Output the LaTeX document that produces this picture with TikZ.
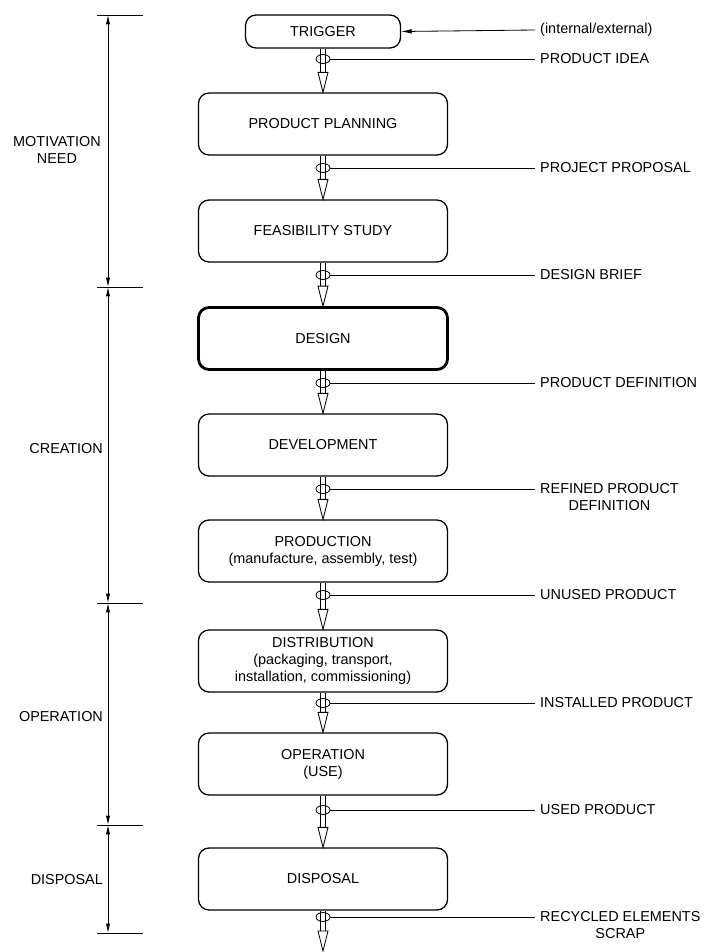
\documentclass[tikz,border=0pt]{standalone}
\usepackage{fontspec}
\setmainfont{Liberation Sans}
\usetikzlibrary{positioning,arrows.meta,shapes.geometric,calc}

\tikzset{
  stage/.style={draw, line width=1.1pt, rounded corners=9pt, align=center,
    minimum width=7.47cm, minimum height=1.86cm, inner sep=2pt},
  output/.style={anchor=west, align=center, inner xsep=0.15cm, inner ysep=0pt},
  phase/.style={anchor=east, align=center},
  ring/.style={draw, ellipse, line width=0.7pt, minimum width=0.42cm,
    minimum height=0.27cm, inner sep=0pt},
  head/.style={line width=0.7pt, fill=white, line join=miter},
  tap/.style={line width=0.7pt},
  span/.style={line width=0.7pt, {Latex[length=8pt,width=3.6pt]}-{Latex[length=8pt,width=3.6pt]}}
}

\begin{document}
\begin{tikzpicture}[x=0.03cm, y=-0.03cm, font=\fontsize{12.3}{14.5}\selectfont]
\useasboundingbox (0,0) rectangle (707,952);

% stages of the product life
\node[stage, minimum width=4.65cm, minimum height=0.99cm] (p_1) at (323,31.5) {TRIGGER};
\node[stage] (p_2) at (323,124) {PRODUCT PLANNING};
\node[stage] (p_3) at (323,231) {FEASIBILITY STUDY};
\node[stage, line width=2.4pt] (p_4) at (323,338.5) {DESIGN};
\node[stage] (p_5) at (323,445) {DEVELOPMENT};
\node[stage] (p_6) at (323,551) {PRODUCTION\\(manufacture, assembly, test)};
\node[stage] (p_7) at (323,661) {DISTRIBUTION\\(packaging, transport,\\installation, commissioning)};
\node[stage] (p_8) at (323,764) {OPERATION\\(USE)};
\node[stage] (p_9) at (323,879) {DISPOSAL};
\coordinate (p_10) at (323,951);

% what leaves each stage
\node[output] (i_1) at (535,30) {(internal/external)};
\node[output] (o_1) at (535,59) {PRODUCT IDEA};
\node[output] (o_2) at (535,168) {PROJECT PROPOSAL};
\node[output] (o_3) at (535,275) {DESIGN BRIEF};
\node[output] (o_4) at (535,383) {PRODUCT DEFINITION};
\node[output] (o_5) at (535,497.5) {REFINED PRODUCT\\DEFINITION};
\node[output] (o_6) at (535,595) {UNUSED PRODUCT};
\node[output] (o_7) at (535,703) {INSTALLED PRODUCT};
\node[output] (o_8) at (535,810) {USED PRODUCT};
\node[output] (o_9) at (535,925.5) {RECYCLED ELEMENTS\\SCRAP};

\draw[tap, -{Latex[length=9pt,width=4pt]}] (i_1.west) -- (p_1.east);

% double shaft, ring and open head below each stage
\foreach \a/\b/\y in {1/p_2.north/59, 2/p_3.north/168, 3/p_4.north/275,
    4/p_5.north/383, 5/p_6.north/489, 6/p_7.north/595, 7/p_8.north/703,
    8/p_9.north/810, 9/p_10/917}{
  \path (\b) ++(0,-20) coordinate (h);
  \draw[tap] ([xshift=-2.1pt]p_\a.south) -- ([xshift=-2.1pt]p_\a.south |- h);
  \draw[tap] ([xshift=2.1pt]p_\a.south) -- ([xshift=2.1pt]p_\a.south |- h);
  \draw[head] (\b) -- ++(-5,-20) -- ++(10,0) -- cycle;
  \node[ring] (r_\a) at (323,\y) {};
  \draw[tap] (r_\a.east) -- (r_\a.east -| o_\a.west);
}

% phases along the left
\coordinate (t_0) at (108,15);
\coordinate (t_1) at (108,287);
\coordinate (t_2) at (108,603);
\coordinate (t_3) at (108,825);
\coordinate (t_4) at (108,933);
\foreach \i in {0,...,4}
  \draw[tap] ($(t_\i)+(-11,0)$) -- ($(t_\i)+(35,0)$);
\draw[span] (t_0) -- (t_1);
\draw[span] (t_1) -- (t_2);
\draw[span] (t_2) -- (t_3);
\draw[span] (t_3) -- (t_4);

\node[phase, anchor=center] (m_1) at (57,150) {MOTIVATION\\NEED};
\node[phase] (m_2) at (107,449) {CREATION};
\node[phase] (m_3) at (107,717) {OPERATION};
\node[phase] (m_4) at (107,880) {DISPOSAL};
\end{tikzpicture}
\end{document}
